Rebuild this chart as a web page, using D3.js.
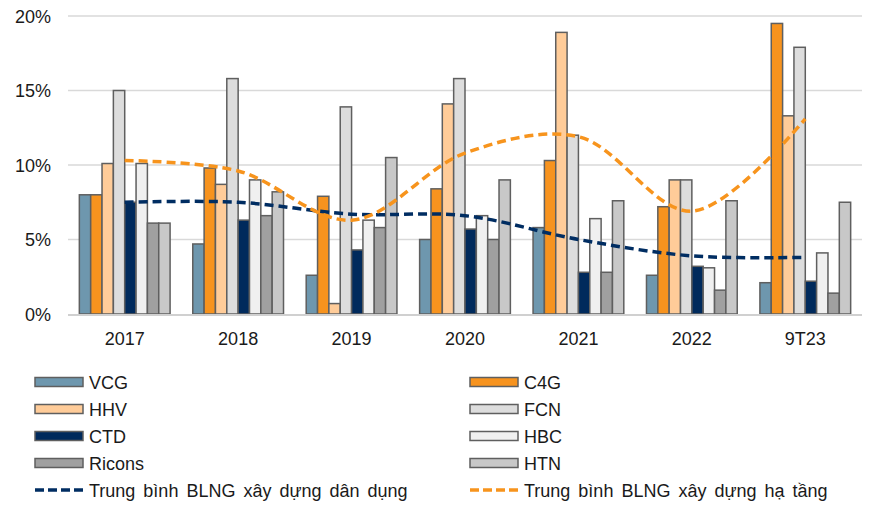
<!DOCTYPE html>
<html><head><meta charset="utf-8">
<script src="https://cdn.jsdelivr.net/npm/d3@7"></script>
<style>body{margin:0;background:#fff}svg{display:block}text{font-family:"Liberation Sans",Arial,sans-serif;fill:#1a1a1a}</style>
</head><body>
<svg id="c" width="875" height="506"></svg>
<script>
const categories = ["2017","2018","2019","2020","2021","2022","9T23"];
const seriesNames = ["VCG","C4G","HHV","FCN","CTD","HBC","Ricons","HTN"];
const seriesColors = ["#6E97AE","#F7931E","#FFCC99","#DDDDDD","#002A5C","#F0F0F0","#A0A0A0","#C8C8C8"];
const VCG    = [8.0, 4.7, 2.6, 5.0, 5.8, 2.6, 2.1];
const C4G    = [8.0, 9.8, 7.9, 8.4, 10.3, 7.2, 19.5];
const HHV    = [10.1, 8.7, 0.7, 14.1, 18.9, 9.0, 13.3];
const FCN    = [15.0, 15.8, 13.9, 15.8, 12.0, 9.0, 17.9];
const CTD    = [7.5, 6.3, 4.3, 5.7, 2.8, 3.2, 2.2];
const HBC    = [10.1, 9.0, 6.3, 6.6, 6.4, 3.1, 4.1];
const Ricons = [6.1, 6.6, 5.8, 5.0, 2.8, 1.6, 1.4];
const HTN    = [6.1, 8.2, 10.5, 9.0, 7.6, 7.6, 7.5];
const avgDanDung = [7.5, 7.5, 6.7, 6.6, 5.0, 3.9, 3.8];
const avgHaTang  = [10.3, 9.6, 6.3, 10.8, 11.9, 6.9, 13.1];
const lineNames = ["Trung bình BLNG xây dựng dân dụng","Trung bình BLNG xây dựng hạ tầng"];
const lineColors = ["#002D62","#F7941D"];
const yTicks = [0,5,10,15,20];

const seriesValues = [VCG,C4G,HHV,FCN,CTD,HBC,Ricons,HTN];
const svg = d3.select("#c");
const x = d3.scaleBand().domain(categories).range([68,862]).paddingInner(0.2).paddingOuter(0.1);
const xs = d3.scaleBand().domain(seriesNames).range([0,x.bandwidth()]).padding(0);
const y = d3.scaleLinear().domain([0,20]).range([314,16]);

// grid
svg.append("g").selectAll("line").data(yTicks.filter(t=>t>0)).join("line")
  .attr("x1",68).attr("x2",862).attr("y1",d=>y(d)).attr("y2",d=>y(d))
  .attr("stroke","#D9D9D9").attr("stroke-width",1.5);
// y labels
svg.append("g").selectAll("text").data(yTicks).join("text")
  .attr("x",51).attr("y",d=>y(d)+6.5).attr("text-anchor","end")
  .attr("font-size",18).text(d=>d+"%");

// bars
const gb = svg.append("g");
seriesValues.forEach((vals,si)=>{
  gb.append("g").selectAll("rect").data(vals).join("rect")
    .attr("x",(d,i)=>x(categories[i])+xs(seriesNames[si]))
    .attr("width",xs.bandwidth())
    .attr("y",d=>y(d)).attr("height",d=>y(0)-y(d))
    .attr("fill",seriesColors[si]).attr("stroke","#5F5F5F").attr("stroke-width",1.5);
});
// baseline
svg.append("line").attr("x1",68).attr("x2",862).attr("y1",y(0)+1).attr("y2",y(0)+1)
  .attr("stroke","#D0D0D0").attr("stroke-width",2);
// x labels
svg.append("g").selectAll("text").data(categories).join("text")
  .attr("x",d=>x(d)+x.bandwidth()/2).attr("y",345).attr("text-anchor","middle")
  .attr("font-size",18).text(d=>d);

// lines
const line = d3.line().x((d,i)=>x(categories[i])+x.bandwidth()/2).y(d=>y(d)).curve(d3.curveCatmullRom.alpha(0.5));
[avgDanDung,avgHaTang].forEach((vals,li)=>{
  svg.append("path").attr("d",line(vals)).attr("fill","none")
    .attr("stroke",lineColors[li]).attr("stroke-width",3.5).attr("stroke-dasharray","9,5");
});

// legend
const leg = svg.append("g");
const rows = [382,409,436,463];
const colX = [35,470];
seriesNames.forEach((n,i)=>{
  const cx = colX[i%2], ry = rows[Math.floor(i/2)];
  leg.append("rect").attr("x",cx).attr("y",ry-4.5).attr("width",48).attr("height",9)
    .attr("fill",seriesColors[i]).attr("stroke","#5F5F5F").attr("stroke-width",1.5);
  leg.append("text").attr("x",cx+54).attr("y",ry+6.5).attr("font-size",18).text(n);
});
lineNames.forEach((n,i)=>{
  const cx = colX[i], ry = 490;
  leg.append("line").attr("x1",cx).attr("x2",cx+50).attr("y1",ry).attr("y2",ry)
    .attr("stroke",lineColors[i]).attr("stroke-width",3.5).attr("stroke-dasharray","9,4");
  leg.append("text").attr("x",cx+54).attr("y",ry+6.5).attr("font-size",18).attr("word-spacing",3).text(n);
});
</script>
</body></html>
